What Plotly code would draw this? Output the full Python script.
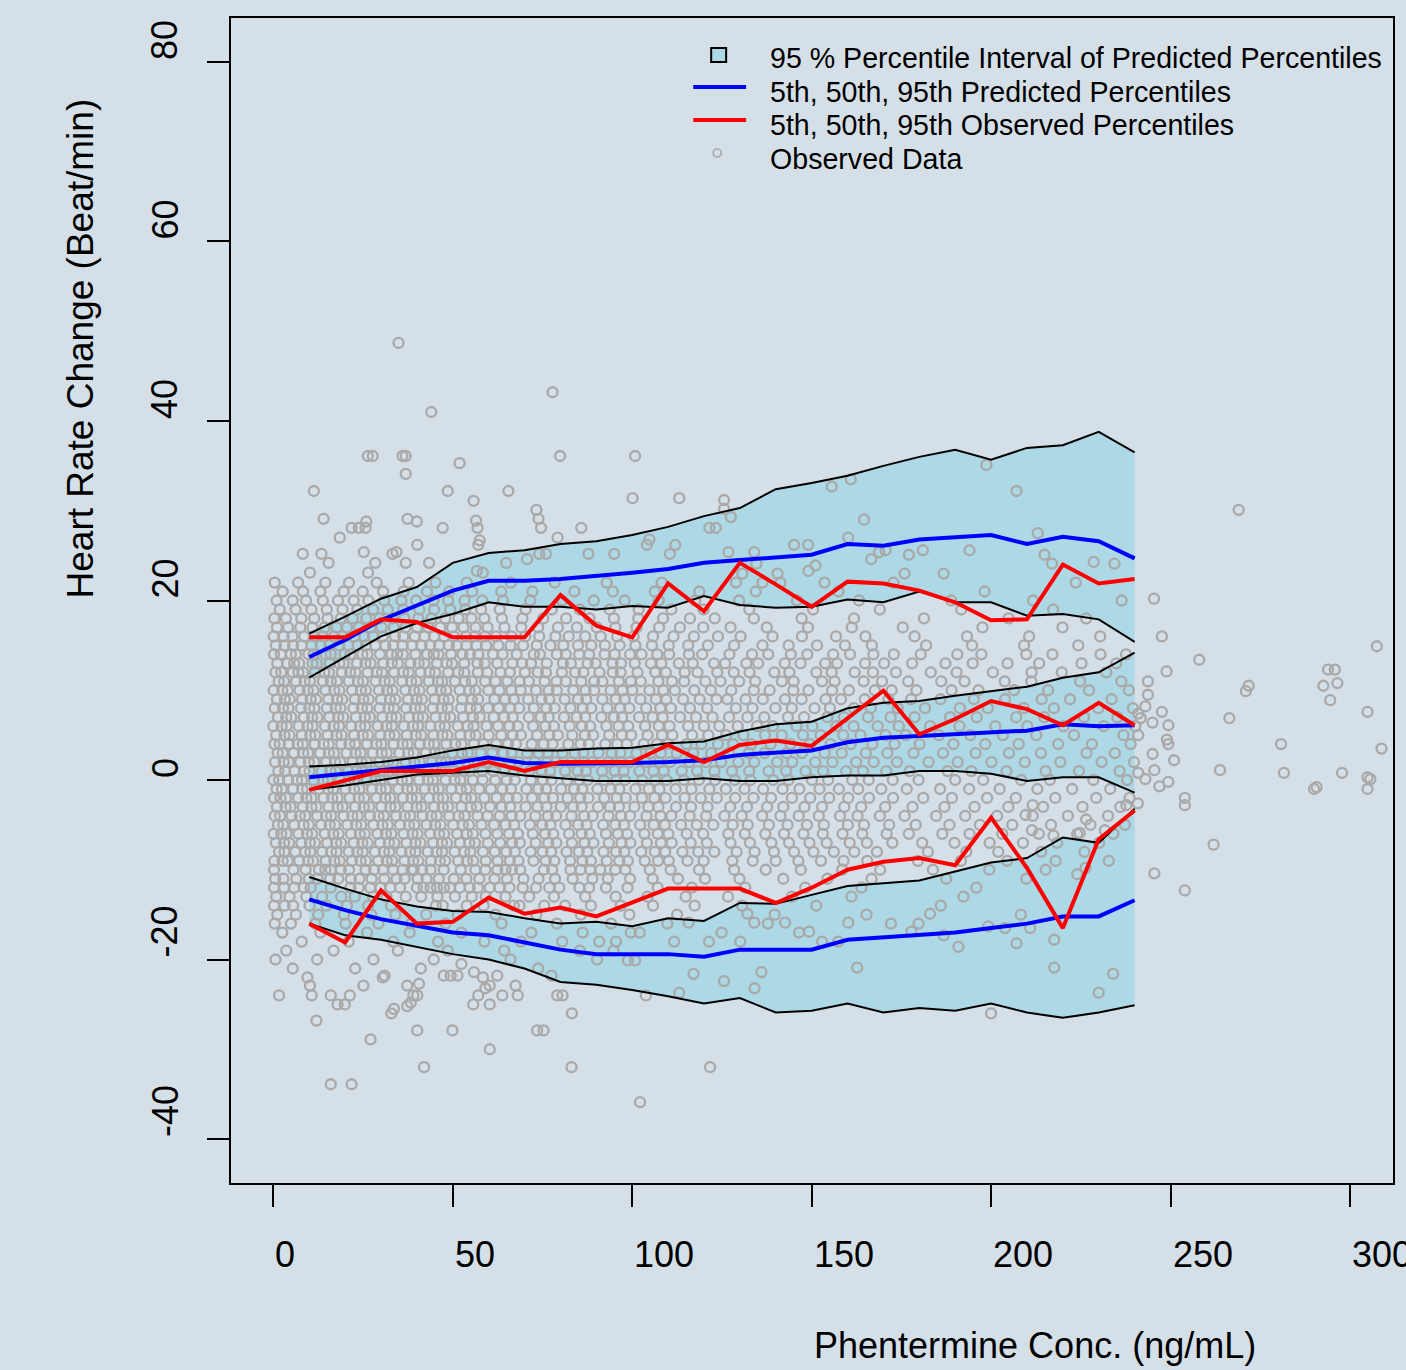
import plotly.graph_objects as go

BG = "#d5dfe7"
FILL = "#add8e6"
PTS = "#a9a9a9"
FONT = "Liberation Sans, Arial, sans-serif"

# ---------------- binned percentile data ----------------
bins = [10, 20, 30, 40, 50, 60, 70, 80, 90, 100, 110, 120, 130, 140, 150, 160, 170, 180, 190, 200, 210, 220, 230, 240]

p95_hi = [16.3, 18.2, 20.2, 21.5, 24.2, 25.3, 25.6, 26.3, 26.6, 27.3, 28.2, 29.4, 30.3, 32.4, 33.1, 33.9, 35.0, 36.0, 36.8, 35.7, 37.0, 37.3, 38.8, 36.5]
p95_med = [13.7, 15.6, 17.8, 19.5, 21.1, 22.2, 22.2, 22.4, 22.7, 23.1, 23.5, 24.2, 24.5, 24.8, 25.1, 26.3, 26.1, 26.8, 27.1, 27.3, 26.3, 27.1, 26.6, 24.7]
p95_lo = [11.4, 13.7, 16.0, 17.5, 18.5, 19.8, 19.3, 19.3, 19.0, 19.4, 19.2, 20.5, 19.5, 19.2, 19.3, 20.1, 19.8, 21.0, 19.8, 19.8, 18.3, 18.5, 17.9, 15.4]
obs95 = [15.9, 15.9, 17.9, 17.6, 15.9, 15.9, 15.9, 20.6, 17.2, 15.9, 21.9, 18.8, 24.2, 21.8, 19.3, 22.1, 21.9, 21.1, 19.8, 17.8, 17.9, 24.0, 21.9, 22.4]

p50_hi = [1.5, 1.7, 2.0, 2.5, 3.3, 3.9, 3.3, 3.3, 3.5, 3.6, 4.1, 4.3, 5.4, 6.2, 6.5, 8.0, 8.6, 8.8, 9.4, 9.9, 10.4, 11.4, 12.0, 14.2]
p50_med = [0.3, 0.7, 1.0, 1.4, 1.9, 2.5, 1.9, 1.8, 1.8, 1.9, 2.0, 2.2, 2.8, 3.0, 3.3, 4.2, 4.7, 4.9, 5.1, 5.2, 5.5, 6.2, 6.0, 6.1]
p50_lo = [-1.1, -0.6, 0.0, 0.6, 0.8, 1.0, 0.5, 0.2, -0.1, -0.1, -0.1, 0.2, -0.1, -0.1, 0.3, 0.5, 0.5, 1.0, 1.0, 0.7, -0.1, 0.3, 0.3, -1.4]
obs50 = [-1.1, 0.0, 1.0, 1.0, 1.0, 2.0, 1.0, 2.0, 2.0, 2.0, 3.9, 2.0, 3.9, 4.4, 3.8, 6.9, 9.95, 5.1, 6.8, 8.8, 7.9, 6.1, 8.6, 6.1]

p5_hi = [-10.8, -12.1, -13.3, -14.1, -14.6, -14.7, -15.4, -16.0, -15.8, -16.3, -15.4, -15.7, -13.7, -13.8, -12.8, -11.8, -11.5, -11.2, -10.2, -9.2, -8.7, -6.4, -7.0, -3.2]
p5_med = [-13.3, -14.5, -15.5, -16.2, -17.0, -17.3, -18.1, -18.9, -19.4, -19.4, -19.4, -19.7, -18.9, -18.9, -18.9, -17.8, -17.5, -17.3, -17.0, -16.5, -16.0, -15.2, -15.2, -13.4]
p5_lo = [-16.0, -17.3, -17.8, -18.6, -19.4, -20.0, -21.0, -22.5, -22.8, -23.4, -24.1, -24.9, -24.3, -25.9, -25.7, -24.9, -25.9, -25.4, -25.7, -24.9, -25.9, -26.5, -25.9, -25.1]
obs5 = [-16.0, -18.1, -12.3, -16.0, -15.8, -13.1, -14.9, -14.2, -15.2, -13.6, -12.1, -12.1, -12.1, -13.7, -12.0, -10.0, -9.1, -8.7, -9.5, -4.2, -9.8, -16.5, -6.6, -3.4]

# ---------------- observed data (estimated from the picture) ----------------
# rows of observations sharing the same heart-rate change value: (hr, [concentrations])
obs_rows = [
    (22, [0.4, 6.9, 14.5, 21.1, 28.8, 37.7, 45.2, 53.9, 66.2, 78.4, 92.9, 108.2, 141.3, 172.8, 223.6]),
    (21, [2.6, 8.3, 13.1, 19.6, 24.9, 30.6, 36.3, 42.8, 49.0, 55.4, 63.5, 72.2, 83.9, 94.6, 106.3, 118.7, 134.4, 157.5, 198.2]),
    (20, [0.9, 5.4, 9.1, 13.8, 18.0, 22.4, 26.5, 30.9, 35.7, 39.8, 44.6, 48.7, 53.3, 58.2, 64.0, 71.6, 80.5, 89.3, 97.9, 107.4, 117.6, 129.8, 145.9, 163.2, 188.9, 211.7, 236.4]),
    (19, [1.8, 6.2, 10.6, 14.9, 19.3, 23.4, 27.8, 31.9, 36.2, 40.7, 44.8, 49.3, 53.5, 57.9, 63.1, 70.3, 77.6, 85.4, 93.7, 101.8, 110.9, 119.9, 132.6, 150.4, 169.0, 191.7, 217.3]),
    (18, [0.3, 3.5, 7.8, 11.4, 15.1, 18.8, 22.1, 25.9, 29.6, 33.2, 36.5, 40.4, 44.1, 47.9, 51.6, 55.2, 58.8, 63.7, 69.4, 75.2, 81.6, 88.1, 94.9, 101.7, 108.6, 116.1, 123.0, 133.9, 147.2, 161.8, 181.3, 204.9, 226.5]),
    (17, [1.0, 4.1, 7.5, 10.9, 14.3, 17.6, 20.5, 23.9, 27.1, 30.2, 33.6, 36.8, 40.0, 43.2, 46.5, 49.8, 53.0, 56.4, 59.7, 64.4, 69.1, 73.8, 79.3, 84.6, 90.1, 95.3, 101.2, 107.5, 113.3, 119.8, 127.4, 137.5, 149.0, 161.2, 175.4, 197.6, 219.9]),
    (16, [0.1, 2.9, 5.3, 8.6, 11.4, 13.7, 16.9, 19.2, 22.6, 25.3, 27.8, 30.5, 33.9, 36.2, 39.4, 42.1, 44.8, 47.6, 50.3, 53.7, 56.1, 59.0, 62.0, 66.4, 70.2, 74.1, 78.6, 82.3, 86.9, 91.2, 95.8, 100.4, 105.8, 111.5, 117.2, 123.9, 130.2, 139.1, 147.3, 156.8, 165.0, 178.7, 193.3, 210.6, 230.4]),
    (15, [0.7, 3.1, 5.5, 7.9, 10.7, 13.2, 15.6, 18.3, 20.9, 23.5, 25.8, 28.4, 31.2, 33.4, 36.0, 38.6, 41.3, 43.7, 46.2, 48.9, 51.1, 53.8, 56.6, 59.3, 62.7, 66.1, 69.6, 73.4, 77.2, 80.8, 84.9, 88.6, 92.4, 96.5, 100.9, 105.5, 110.2, 115.6, 121.1, 128.4, 136.3, 143.6, 151.5, 159.3, 166.8, 181.9, 194.7, 209.2, 224.3]),
    (14, [0.2, 2.1, 4.9, 6.3, 9.8, 11.2, 14.6, 16.0, 19.9, 21.5, 24.8, 26.2, 29.7, 32.9, 34.5, 36.1, 39.6, 42.8, 44.7, 46.0, 49.5, 52.7, 54.8, 57.1, 61.2, 63.9, 67.8, 72.6, 74.3, 79.0, 81.5, 85.2, 88.0, 92.3, 95.1, 99.4, 102.6, 107.0, 110.3, 115.8, 119.5, 127.1, 133.4, 137.9, 144.2, 148.8, 156.0, 160.7, 167.2, 172.9, 180.4, 190.6, 197.3, 209.8, 217.1, 230.5, 237.6]),
    (13, [1.1, 3.9, 5.8, 7.2, 10.9, 12.1, 15.7, 18.4, 19.6, 23.3, 25.7, 27.1, 30.6, 33.0, 34.7, 38.2, 40.5, 42.1, 45.6, 48.3, 49.8, 53.2, 56.9, 58.9, 62.4, 66.6, 69.3, 71.8, 76.2, 80.7, 82.9, 87.6, 89.8, 94.5, 96.9, 100.7, 105.2, 108.1, 113.0, 116.9, 122.8, 125.9, 131.8, 135.1, 142.5, 146.9, 153.8, 157.1, 164.9, 170.2, 178.0, 187.3, 194.9, 204.6, 213.4, 225.2, 234.9]),
    (12, [0.6, 2.2, 5.4, 7.0, 8.3, 11.6, 14.2, 15.5, 19.1, 21.4, 22.9, 26.3, 28.8, 30.3, 33.6, 36.2, 37.7, 41.0, 43.5, 45.1, 48.7, 51.5, 53.2, 57.0, 59.6, 63.3, 65.9, 70.1, 73.7, 76.0, 80.4, 84.1, 86.4, 90.9, 94.6, 96.8, 101.5, 106.4, 109.4, 114.6, 118.2, 123.7, 128.3, 132.7, 139.6, 143.8, 151.3, 155.6, 162.0, 167.1, 173.5, 183.2, 190.4, 200.5, 211.3, 219.7, 232.1]),
    (11, [1.5, 3.0, 6.3, 8.7, 10.2, 13.8, 16.0, 17.7, 21.0, 23.6, 25.0, 28.5, 31.0, 32.4, 35.9, 38.4, 39.9, 43.3, 45.9, 47.0, 50.6, 53.4, 55.3, 59.0, 61.9, 65.2, 68.6, 71.2, 75.6, 78.9, 81.5, 85.8, 89.4, 91.7, 96.3, 99.6, 102.4, 107.3, 111.1, 114.5, 120.4, 124.6, 129.8, 134.3, 141.7, 145.0, 152.9, 156.4, 164.5, 169.6, 176.9, 186.1, 192.6, 203.8, 211.2, 224.8, 236.3]),
    (10, [0.1, 2.5, 4.0, 7.3, 9.6, 11.2, 14.5, 17.0, 18.4, 21.9, 24.4, 25.8, 29.4, 31.7, 33.2, 36.8, 39.2, 40.7, 44.2, 46.6, 48.2, 51.9, 54.6, 56.3, 59.9, 63.0, 66.3, 68.9, 73.2, 76.7, 79.0, 83.6, 87.0, 89.4, 94.0, 97.3, 100.0, 104.8, 108.7, 111.9, 117.3, 121.9, 127.6, 133.9, 138.3, 144.9, 149.1, 155.7, 160.4, 167.6, 172.3, 179.2, 189.0, 196.5, 206.4, 215.9, 227.3, 238.4]),
    (9, [1.0, 3.2, 4.6, 8.0, 10.4, 11.9, 15.3, 17.8, 19.2, 22.7, 25.1, 26.6, 30.0, 32.5, 34.0, 37.5, 39.9, 41.4, 44.9, 47.4, 48.9, 52.6, 55.3, 57.1, 61.6, 64.6, 67.0, 71.0, 74.7, 76.9, 81.2, 84.9, 87.2, 91.7, 95.4, 97.9, 102.3, 106.6, 109.5, 114.2, 118.8, 123.5, 126.5, 131.6, 136.4, 142.6, 147.2, 153.9, 158.2, 164.8, 171.4, 177.7, 185.9, 195.2, 203.9, 214.1, 222.0, 233.6]),
    (8, [0.4, 2.7, 4.2, 7.7, 10.0, 11.4, 14.9, 17.4, 18.7, 22.3, 24.7, 26.2, 29.6, 32.1, 33.6, 37.0, 39.5, 41.0, 44.4, 46.9, 48.6, 52.3, 54.9, 56.7, 59.8, 62.8, 66.0, 68.5, 72.6, 76.1, 78.4, 82.8, 86.2, 88.6, 93.1, 96.6, 99.2, 103.9, 107.8, 110.8, 116.1, 120.9, 128.9, 133.5, 139.9, 144.5, 150.8, 155.1, 161.8, 166.5, 174.0, 181.6, 191.3, 199.1, 209.1, 217.5, 229.9, 239.5]),
    (7, [1.3, 3.6, 5.0, 8.5, 10.8, 12.3, 15.6, 18.1, 19.5, 23.0, 25.5, 26.9, 30.4, 32.9, 34.3, 37.8, 40.3, 41.7, 45.2, 47.7, 49.3, 52.9, 55.6, 57.5, 61.4, 64.3, 66.7, 71.2, 74.5, 76.7, 81.0, 84.5, 86.9, 91.4, 94.9, 97.2, 101.9, 105.7, 108.5, 113.3, 117.8, 122.4, 127.0, 132.1, 136.8, 143.4, 147.9, 154.4, 159.0, 165.7, 172.0, 178.7, 188.6, 196.0, 207.0, 214.8, 225.9, 235.2]),
    (6, [0.0, 2.3, 3.7, 7.1, 9.5, 10.9, 14.4, 16.8, 18.3, 21.7, 24.2, 25.6, 29.1, 31.5, 33.0, 36.4, 38.9, 40.3, 43.8, 46.3, 47.8, 51.4, 54.1, 55.8, 59.4, 62.6, 65.8, 68.1, 72.4, 75.8, 78.2, 82.6, 86.0, 88.3, 92.8, 96.2, 98.9, 103.6, 107.4, 110.4, 115.6, 120.0, 124.3, 129.4, 134.8, 139.2, 145.8, 150.2, 156.9, 161.7, 168.4, 174.3, 183.0, 191.2, 201.2, 210.1, 220.2, 231.4, 240.2]),
    (5, [0.8, 3.1, 4.5, 7.9, 10.3, 11.7, 15.1, 17.6, 19.0, 22.5, 24.9, 26.4, 29.8, 32.3, 33.8, 37.2, 39.7, 41.2, 44.6, 47.1, 48.5, 52.1, 54.7, 56.4, 60.0, 63.5, 66.7, 69.0, 73.5, 76.9, 79.3, 83.3, 86.8, 89.1, 93.6, 97.1, 99.7, 104.3, 108.3, 111.2, 116.7, 121.2, 126.2, 131.0, 137.0, 141.7, 147.6, 152.5, 158.8, 163.6, 170.6, 176.2, 185.4, 194.2, 203.3, 212.6, 223.1, 236.9]),
    (4, [0.3, 1.8, 4.3, 6.8, 8.2, 11.5, 14.0, 15.4, 18.9, 21.2, 22.8, 26.1, 28.7, 30.1, 33.5, 36.0, 37.4, 40.8, 43.3, 44.8, 48.2, 50.7, 52.4, 55.9, 58.6, 62.1, 65.4, 67.6, 72.0, 75.3, 77.8, 82.2, 85.6, 87.9, 92.5, 95.8, 98.5, 103.2, 106.9, 109.9, 115.1, 119.3, 123.9, 128.1, 133.2, 138.6, 144.1, 149.5, 155.3, 160.9, 166.9, 173.1, 180.1, 189.5, 198.4, 207.7, 218.7, 228.1, 238.9]),
    (3, [1.2, 2.6, 5.7, 8.3, 9.7, 13.0, 15.5, 16.9, 20.4, 22.9, 24.3, 27.7, 30.2, 31.6, 35.1, 37.6, 39.1, 42.5, 45.0, 46.4, 49.9, 52.5, 54.2, 57.8, 61.0, 64.1, 66.4, 70.7, 74.0, 76.4, 80.6, 84.0, 86.4, 90.6, 94.3, 96.7, 101.2, 105.1, 108.0, 112.4, 117.0, 122.0, 126.9, 132.5, 136.9, 143.0, 147.3, 153.6, 158.4, 165.1, 171.1, 178.4, 186.6, 195.7, 205.0, 213.9, 226.6, 234.5]),
    (2, [0.5, 2.9, 4.3, 7.5, 9.9, 11.4, 14.7, 17.2, 18.6, 22.1, 24.6, 26.0, 29.5, 31.9, 33.4, 36.9, 39.3, 40.8, 44.3, 46.7, 48.1, 51.7, 54.3, 56.0, 59.5, 62.9, 66.1, 68.4, 72.8, 76.3, 78.6, 83.0, 86.5, 88.8, 93.3, 96.8, 99.3, 103.7, 107.5, 110.6, 115.9, 120.5, 124.8, 129.6, 134.0, 140.4, 144.6, 151.0, 155.8, 162.4, 167.3, 173.8, 182.6, 190.7, 200.1, 209.4, 219.3, 230.8, 239.8]),
    (1, [1.4, 3.3, 5.9, 8.6, 10.1, 13.5, 15.9, 17.4, 20.8, 23.2, 24.7, 28.2, 30.7, 32.1, 35.5, 38.0, 39.5, 42.9, 45.4, 46.9, 50.4, 53.1, 54.8, 58.2, 61.3, 64.5, 66.9, 71.4, 74.8, 77.1, 81.3, 84.8, 87.1, 91.6, 95.1, 97.6, 102.0, 105.9, 108.8, 113.8, 118.1, 122.9, 127.8, 132.6, 138.0, 142.9, 148.3, 153.2, 159.6, 164.3, 170.8, 177.3, 187.9, 194.5, 204.3, 215.2, 224.5, 235.8]),
    (0, [0.0, 1.6, 4.1, 6.6, 8.0, 11.3, 13.8, 15.2, 18.6, 21.1, 22.6, 26.0, 28.5, 29.9, 33.3, 35.8, 37.3, 40.6, 43.1, 44.5, 48.0, 50.5, 52.1, 55.6, 58.3, 61.8, 65.0, 67.3, 71.8, 75.1, 77.5, 81.9, 85.3, 87.6, 92.1, 95.6, 98.0, 102.8, 106.4, 109.6, 114.4, 118.6, 123.1, 128.6, 133.0, 139.3, 143.6, 150.1, 154.6, 161.3, 165.9, 172.6, 179.8, 190.0, 197.8, 208.4, 216.4, 228.5, 237.9]),
    (-1, [0.9, 2.4, 5.5, 8.1, 9.4, 12.8, 15.2, 16.7, 20.1, 22.5, 24.0, 27.5, 29.9, 31.4, 34.8, 37.3, 38.7, 42.2, 44.6, 46.1, 49.6, 52.2, 53.9, 57.4, 60.6, 63.8, 66.2, 70.5, 73.8, 76.0, 80.2, 83.8, 86.1, 90.3, 94.0, 96.4, 100.9, 104.6, 107.6, 112.1, 116.5, 121.5, 126.1, 131.3, 136.5, 141.9, 146.6, 152.2, 157.6, 163.0, 169.4, 176.5, 185.8, 193.9, 202.4, 212.9, 222.6, 233.2]),
    (-2, [0.2, 2.0, 3.5, 6.9, 9.2, 10.6, 14.0, 16.4, 17.9, 21.3, 23.8, 25.3, 28.7, 31.2, 32.6, 36.1, 38.5, 40.0, 43.4, 45.9, 47.3, 50.9, 53.6, 55.2, 58.8, 62.2, 65.5, 67.9, 72.1, 75.5, 77.9, 82.0, 85.5, 87.8, 92.2, 95.7, 98.2, 102.7, 106.2, 109.3, 114.6, 119.1, 123.6, 128.7, 133.8, 138.7, 144.5, 149.6, 154.9, 160.2, 166.0, 172.7, 181.1, 189.1, 198.9, 206.9, 217.9, 229.3, 238.6]),
    (-3, [1.0, 3.4, 4.8, 8.2, 10.6, 12.0, 15.4, 17.9, 19.3, 22.8, 25.2, 26.7, 30.1, 32.6, 34.0, 37.4, 39.9, 41.3, 44.8, 47.2, 48.7, 52.4, 55.0, 56.7, 60.4, 63.6, 66.0, 70.3, 73.6, 76.1, 80.1, 83.5, 85.9, 90.5, 93.8, 96.3, 100.6, 104.5, 107.3, 112.2, 116.4, 121.0, 127.3, 132.0, 137.6, 142.1, 148.0, 152.9, 159.1, 163.8, 170.5, 178.1, 187.0, 195.4, 204.8, 214.5, 225.5, 236.0]),
    (-4, [0.4, 1.9, 5.1, 7.4, 8.9, 12.2, 14.7, 16.1, 19.6, 22.0, 23.5, 26.9, 29.3, 30.8, 34.2, 36.6, 38.1, 41.6, 44.0, 45.5, 49.0, 51.6, 53.3, 56.9, 59.7, 63.1, 66.4, 68.8, 73.0, 76.5, 78.8, 83.1, 86.6, 89.0, 93.4, 96.9, 99.4, 104.0, 107.9, 110.9, 116.0, 120.6, 125.7, 130.5, 136.2, 141.3, 146.4, 152.0, 157.9, 162.8, 169.0, 175.9, 184.7, 192.8, 201.7, 211.6, 221.4, 232.6]),
    (-5, [1.3, 2.8, 5.8, 8.4, 9.9, 13.3, 15.7, 17.2, 20.6, 23.1, 24.5, 27.9, 30.4, 31.9, 35.3, 37.8, 39.3, 42.7, 45.1, 46.6, 50.1, 52.8, 54.5, 58.0, 61.5, 64.7, 67.1, 71.5, 74.9, 77.2, 81.4, 84.9, 87.3, 91.9, 95.3, 97.7, 102.2, 106.0, 109.1, 113.6, 118.0, 122.6, 128.0, 132.2, 138.1, 143.3, 148.7, 153.4, 160.1, 164.6, 171.6, 179.0, 188.4, 196.9, 205.9, 216.7, 227.7, 237.3]),
    (-6, [0.1, 2.2, 3.7, 7.0, 9.4, 10.8, 14.3, 16.7, 18.2, 21.6, 24.1, 25.5, 29.0, 31.4, 32.9, 36.3, 38.8, 40.2, 43.7, 46.2, 47.6, 51.2, 53.9, 55.6, 59.1, 62.4, 65.7, 68.2, 72.3, 75.7, 78.0, 82.4, 85.9, 88.2, 92.7, 96.0, 98.6, 103.4, 107.1, 110.1, 115.2, 119.8, 126.8, 131.4, 137.1, 142.3, 147.7, 153.1, 158.6, 164.1, 170.9, 177.1, 186.4, 194.0, 203.1, 213.3, 224.0, 234.1]),
    (-7, [0.7, 3.0, 4.4, 7.8, 10.2, 11.6, 15.0, 17.5, 18.9, 22.4, 24.8, 26.3, 29.7, 32.2, 33.7, 37.1, 39.6, 41.0, 44.5, 47.0, 48.4, 52.0, 54.6, 56.2, 59.8, 63.2, 66.5, 68.7, 73.1, 76.6, 78.9, 83.2, 86.7, 89.2, 93.5, 97.0, 99.5, 104.1, 108.0, 111.0, 116.3, 120.8, 127.4, 132.8, 138.8, 143.7, 149.4, 154.2, 160.6, 165.4, 172.5, 180.8, 189.8, 199.6, 208.9, 218.4, 230.1]),
    (-8, [1.6, 3.1, 6.1, 8.8, 10.3, 13.6, 16.1, 17.6, 21.0, 23.4, 24.9, 28.3, 30.8, 32.3, 35.7, 38.1, 39.6, 43.0, 45.5, 47.0, 50.5, 53.2, 54.9, 58.4, 61.7, 64.9, 67.3, 71.7, 75.0, 77.4, 81.7, 85.1, 87.5, 92.0, 95.5, 97.8, 102.5, 106.3, 109.2, 114.0, 118.4, 122.9, 129.1, 134.1, 139.5, 145.1, 150.5, 156.2, 161.9, 168.2, 182.4, 193.1, 202.0, 214.0, 226.0]),
    (-9, [0.3, 2.6, 4.0, 7.2, 9.7, 11.1, 14.6, 17.0, 18.5, 21.9, 24.3, 25.8, 29.2, 31.6, 33.1, 36.5, 39.0, 40.4, 43.9, 46.4, 47.9, 51.5, 54.0, 55.7, 59.2, 62.5, 65.9, 68.3, 72.5, 75.9, 78.3, 82.7, 86.1, 88.5, 92.9, 96.4, 98.8, 103.5, 107.2, 110.2, 115.4, 119.9, 127.9, 133.6, 140.0, 146.3, 152.6, 158.9, 165.5, 179.6, 191.6, 204.5, 218.0, 232.8]),
    (-10, [0.2, 5.6, 9.0, 12.7, 14.5, 16.0, 18.8, 21.1, 25.7, 28.1, 30.6, 33.4, 36.0, 38.5, 39.1, 41.5, 43.8, 47.5, 52.2, 56.3, 59.1, 62.4, 64.7, 66.5, 68.8, 75.4, 77.7, 82.8, 85.6, 88.3, 91.1, 95.3, 98.1, 104.9, 110.7, 118.6, 128.4, 137.2, 147.0, 158.5, 169.1, 183.8, 199.5, 215.2]),
    (-11, [0.5, 2.8, 6.4, 9.9, 12.3, 15.8, 18.1, 21.6, 24.0, 27.4, 30.9, 34.3, 36.6, 40.2, 42.7, 46.1, 50.3, 53.8, 57.4, 61.6, 65.1, 69.7, 73.9, 78.5, 83.4, 88.9, 93.2, 99.4, 105.7, 112.8, 120.3, 129.9, 142.1, 154.4, 166.7, 187.5, 209.8]),
    (-12, [0.2, 3.0, 5.8, 8.5, 10.4, 16.0, 21.5, 23.8, 27.0, 29.8, 32.6, 35.3, 40.0, 41.9, 43.8, 45.6, 47.5, 49.2, 52.0, 54.7, 57.0, 60.3, 63.0, 65.8, 69.5, 73.2, 76.9, 79.7, 85.3, 88.0, 92.7, 98.7, 107.1, 116.6, 131.5, 148.2, 163.9, 195.9]),
    (-13, [0.8, 4.5, 9.2, 13.6, 18.9, 22.7, 27.8, 31.5, 36.9, 41.2, 45.7, 50.6, 55.3, 59.2, 64.7, 71.3, 78.2, 86.9, 95.4, 104.3, 114.9, 126.7, 144.5, 161.1, 192.3]),
    (-14, [0.2, 3.1, 5.5, 10.1, 14.8, 20.5, 26.4, 32.8, 45.3, 47.2, 53.9, 58.6, 67.0, 68.6, 75.5, 81.3, 88.5, 96.8, 105.8, 117.4, 130.6, 151.3, 186.0]),
    (-15, [1.1, 6.3, 12.5, 19.7, 27.3, 34.0, 42.6, 51.4, 61.9, 73.3, 85.7, 99.2, 112.5, 139.7, 165.3, 208.3]),
    (-16, [0.4, 4.9, 11.7, 20.1, 29.3, 38.4, 48.0, 63.6, 79.0, 94.1, 109.8, 137.8, 172.1]),
    (-17, [2.5, 13.1, 26.1, 38.0, 52.4, 71.9, 86.2, 99.6, 146.5]),
    (-18, [7.9, 21.0, 33.4, 45.9, 58.8, 69.0, 80.5, 121.4]),
    (-19, [3.6, 16.8, 34.7, 48.6, 64.3, 85.4]),
    (-20, [0.6, 12.2, 27.9, 44.7, 66.1, 90.2]),
    (-21, [5.4, 22.8, 41.1, 73.8]),
    (-22, [9.5, 30.5, 58.4]),
]

# isolated observations (concentration, heart-rate change)
extra_conc = [44.0, 26.3, 27.7, 36.0, 36.9, 36.9, 51.9, 79.9, 100.8, 34.9, 77.8, 11.3, 48.6, 65.5, 55.8, 100.1, 113.1, 73.3, 73.9, 74.6, 14.0,
              21.8, 23.8, 25.7, 25.9, 37.4, 40.0, 47.2, 18.5, 40.1, 56.5, 56.9, 57.5, 57.1, 85.8, 79.2,
              8.2, 13.4, 25.2, 33.2, 34.3, 36.9, 43.4, 15.4, 28.4, 26.4, 10.2, 74.1, 76.0, 70.7, 87.8, 95.0, 104.1, 104.8, 112.0, 110.5, 121.5, 123.3,
              64.9, 58.4, 56.7, 125.6, 125.6, 127.5, 155.6, 160.9, 198.7, 207.1, 164.6, 145.1, 149.0, 160.2, 213.0,
              126.8, 134.0, 134.6, 151.1, 140.5, 149.1, 153.6, 166.6, 168.8, 170.6, 177.1, 181.0, 194.0, 175.9, 186.8, 214.9, 217.0, 228.6, 234.4, 130.7, 128.9, 136.3,
              245.4, 269.0, 247.6, 258.0, 248.9, 243.7, 243.7, 243.0, 241.0, 241.7, 245.0, 247.6, 249.4, 241.0, 249.0, 249.4, 245.0, 251.0, 241.0, 243.0, 245.5, 246.9, 249.4,
              254.0, 254.0, 262.0, 245.5, 254.0, 266.4, 271.0, 271.8, 263.8, 280.8, 281.6, 290.0, 290.7, 293.9, 295.8, 292.6, 296.5, 294.5, 297.8, 304.9, 304.9, 305.7, 304.9, 307.5, 308.8,
              1.6, 10.2, 10.7, 12.0, 16.0, 17.9, 19.9, 21.3, 16.0, 21.8, 25.1, 27.1, 31.0, 32.9, 33.6, 37.3, 38.3, 39.0, 40.1, 37.3, 40.6, 40.1, 42.0, 49.9, 47.5, 49.4, 51.3, 52.4, 55.9,
              57.1, 59.1, 60.3, 62.4, 55.7, 60.3, 60.3, 63.8, 67.5, 68.1, 73.5, 75.3, 77.5, 79.1, 80.6, 83.2, 83.1, 102.2,
              113.1, 117.1, 103.8, 121.7, 134.1, 136.0, 125.6, 162.7, 217.6, 217.6, 190.9, 207.1, 179.8, 183.0, 177.8, 160.2, 149.3, 152.9, 157.4, 124.9, 130.1, 111.7, 115.7,
              102.1, 95.5, 94.8, 98.8, 100.8, 90.8, 203.9, 210.9, 224.0, 237.7, 240.9, 231.7, 226.5, 199.2, 200.0, 234.0, 230.0, 142.6, 134.0, 132.1, 186.8, 226.3, 224.7, 217.4, 211.4, 209.6, 211.6]
extra_hr = [41.0, 36.1, 36.1, 36.1, 36.1, 34.1, 35.3, 36.1, 36.1, 48.7, 43.2, 32.2, 32.2, 32.2, 31.1, 31.4, 31.4, 30.1, 29.1, 28.1, 29.1,
            28.1, 28.1, 28.1, 28.8, 29.1, 28.8, 28.1, 27.0, 26.2, 28.9, 28.1, 26.7, 26.2, 28.1, 27.0,
            25.2, 25.2, 25.4, 25.2, 25.4, 24.2, 24.2, 24.2, 24.2, 23.1, 23.1, 25.2, 25.2, 24.6, 25.2, 25.2, 26.2, 26.8, 26.2, 25.2, 28.1, 28.1,
            24.2, 23.1, 23.3, 31.2, 30.2, 29.3, 32.7, 33.5, 35.1, 32.2, 29.0, 26.2, 26.2, 27.0, 27.5,
            25.4, 25.4, 24.1, 23.9, 23.0, 23.3, 22.0, 24.6, 25.4, 25.6, 25.1, 25.6, 25.6, 23.0, 23.0, 25.1, 24.1, 24.3, 24.1, 23.0, 22.0, 22.0,
            20.2, 30.1, 16.0, 13.4, 12.1, 11.0, 9.5, 8.2, 7.4, 6.9, 6.4, 7.6, 6.1, 5.0, 4.5, 4.0, 2.9, 2.2, 0.8, 0.1, 1.1, -0.7, -0.2,
            -2.0, -2.8, -7.2, -10.4, -12.3, 6.9, 9.9, 10.5, 1.1, 4.0, 0.8, -1.0, -0.8, 12.3, 12.3, 10.5, 10.8, 8.9, 0.8, 7.6, 0.3, 0.1, -1.0, 14.9, 3.5,
            -24.0, -22.9, -24.0, -26.8, -24.0, -25.0, -25.0, -24.0, -33.9, -33.9, -22.9, -28.9, -21.8, -26.0, -25.5, -25.2, -24.8, -24.0, -24.0, -22.9, -22.7, -27.9, -32.0, -27.9, -21.8, -21.8, -21.8, -20.5, -21.4,
            -24.0, -23.2, -22.9, -21.8, -25.0, -25.0, -30.0, -24.0, -22.9, -24.0, -27.9, -27.9, -21.8, -24.0, -24.0, -26.0, -32.0, -35.9,
            -23.7, -21.6, -24.0, -32.0, -23.2, -21.4, -22.4, -20.9, -20.9, -17.8, -18.6, -18.2, -16.0, -14.9, -16.9, -15.9, -16.9, -18.0, -18.0, -17.0, -18.0, -18.0, -15.9,
            -17.0, -18.0, -19.0, -20.1, -20.1, -18.0, -16.5, -16.5, -10.5, -2.8, -2.6, -5.6, -4.4, -16.3, -26.0, -21.6, -23.7, -15.9, -15.9, -14.9, -17.3, -9.8, -5.9, -6.2, -5.6, -3.9, -2.8]

x_ticks = [0, 50, 100, 150, 200, 250, 300]
y_ticks = [-40, -20, 0, 20, 40, 60, 80]

legend_labels = ["95 % Percentile Interval of Predicted Percentiles",
                 "5th, 50th, 95th Predicted Percentiles",
                 "5th, 50th, 95th Observed Percentiles",
                 "Observed Data"]

# ---------------- build figure ----------------
obs_x, obs_y = [], []
for hr, xs in obs_rows:
    obs_x.extend(xs)
    obs_y.extend([hr] * len(xs))
obs_x.extend(extra_conc)
obs_y.extend(extra_hr)

fig = go.Figure()

for hi, lo in [(p95_hi, p95_lo), (p50_hi, p50_lo), (p5_hi, p5_lo)]:
    fig.add_trace(go.Scatter(x=bins + bins[::-1], y=hi + lo[::-1], fill="toself",
                             fillcolor=FILL, line=dict(width=0), mode="lines",
                             hoverinfo="skip"))

fig.add_trace(go.Scatter(x=obs_x, y=obs_y, mode="markers",
                         marker=dict(symbol="circle-open", size=10, color=PTS,
                                     line=dict(width=2.3, color=PTS))))

for s in [p95_hi, p95_lo, p50_hi, p50_lo, p5_hi, p5_lo]:
    fig.add_trace(go.Scatter(x=bins, y=s, mode="lines", line=dict(color="black", width=2)))
for s in [p95_med, p50_med, p5_med]:
    fig.add_trace(go.Scatter(x=bins, y=s, mode="lines", line=dict(color="#0000ff", width=4)))
for s in [obs95, obs50, obs5]:
    fig.add_trace(go.Scatter(x=bins, y=s, mode="lines", line=dict(color="#ff0000", width=4)))

L, T, R, B = 231, 18, 1395, 1183
W, H = 1406, 1370


def xp(px):
    return (px - L) / (R - L)


def yp(py):
    return (B - py) / (B - T)


axis_common = dict(showgrid=False, zeroline=False, showline=True, mirror=True,
                   linecolor="black", linewidth=2, ticks="outside", ticklen=22,
                   tickwidth=2, tickcolor="black", showticklabels=False)

fig.update_layout(
    width=W, height=H,
    margin=dict(l=L, r=W - R, t=T, b=H - B),
    paper_bgcolor=BG, plot_bgcolor=BG,
    showlegend=False,
    font=dict(family=FONT, color="black"),
    xaxis=dict(range=[-11.8, 312.0], tickvals=x_ticks, **axis_common),
    yaxis=dict(range=[-44.9, 84.9], tickvals=y_ticks, **axis_common),
)

ann = []
for v in x_ticks:
    ann.append(dict(text=str(v), x=v, xref="x", y=0, yref="paper", xanchor="left",
                    yanchor="middle", yshift=-71, showarrow=False, font=dict(size=36)))
for v in y_ticks:
    ann.append(dict(text=str(v), x=0, xref="paper", xshift=-66, xanchor="center",
                    y=v, yref="y", yanchor="bottom", textangle=-90, showarrow=False,
                    font=dict(size=36)))
ann.append(dict(text="Phentermine Conc. (ng/mL)", x=0.5, xref="paper", xanchor="left",
                y=0, yref="paper", yanchor="middle", yshift=-162, showarrow=False,
                font=dict(size=36)))
ann.append(dict(text="Heart Rate Change (Beat/min)", x=0, xref="paper", xshift=-151,
                xanchor="center", y=0.5, yref="paper", yanchor="bottom", textangle=-90,
                showarrow=False, font=dict(size=37)))
for lbl, py in zip(legend_labels, [58, 92, 125, 159]):
    ann.append(dict(text=lbl, x=xp(769), xref="paper", xanchor="left", y=yp(py),
                    yref="paper", yanchor="middle", showarrow=False, font=dict(size=28.6)))
fig.update_layout(annotations=ann)

shapes = [
    dict(type="rect", xref="paper", yref="paper", x0=xp(712), x1=xp(727), y0=yp(62), y1=yp(48),
         fillcolor=FILL, line=dict(color="black", width=2)),
    dict(type="line", xref="paper", yref="paper", x0=xp(694), x1=xp(747), y0=yp(87), y1=yp(87),
         line=dict(color="#0000ff", width=4)),
    dict(type="line", xref="paper", yref="paper", x0=xp(694), x1=xp(747), y0=yp(120), y1=yp(120),
         line=dict(color="#ff0000", width=4)),
    dict(type="circle", xref="paper", yref="paper", xsizemode="pixel", ysizemode="pixel",
         xanchor=xp(718), yanchor=yp(153), x0=-4, x1=4, y0=-4, y1=4,
         line=dict(color=PTS, width=1.7)),
]
fig.update_layout(shapes=shapes)

fig.write_html("out.html", config={"displayModeBar": False},
               post_script="document.body.style.margin='0';document.body.style.background='%s';" % BG)
